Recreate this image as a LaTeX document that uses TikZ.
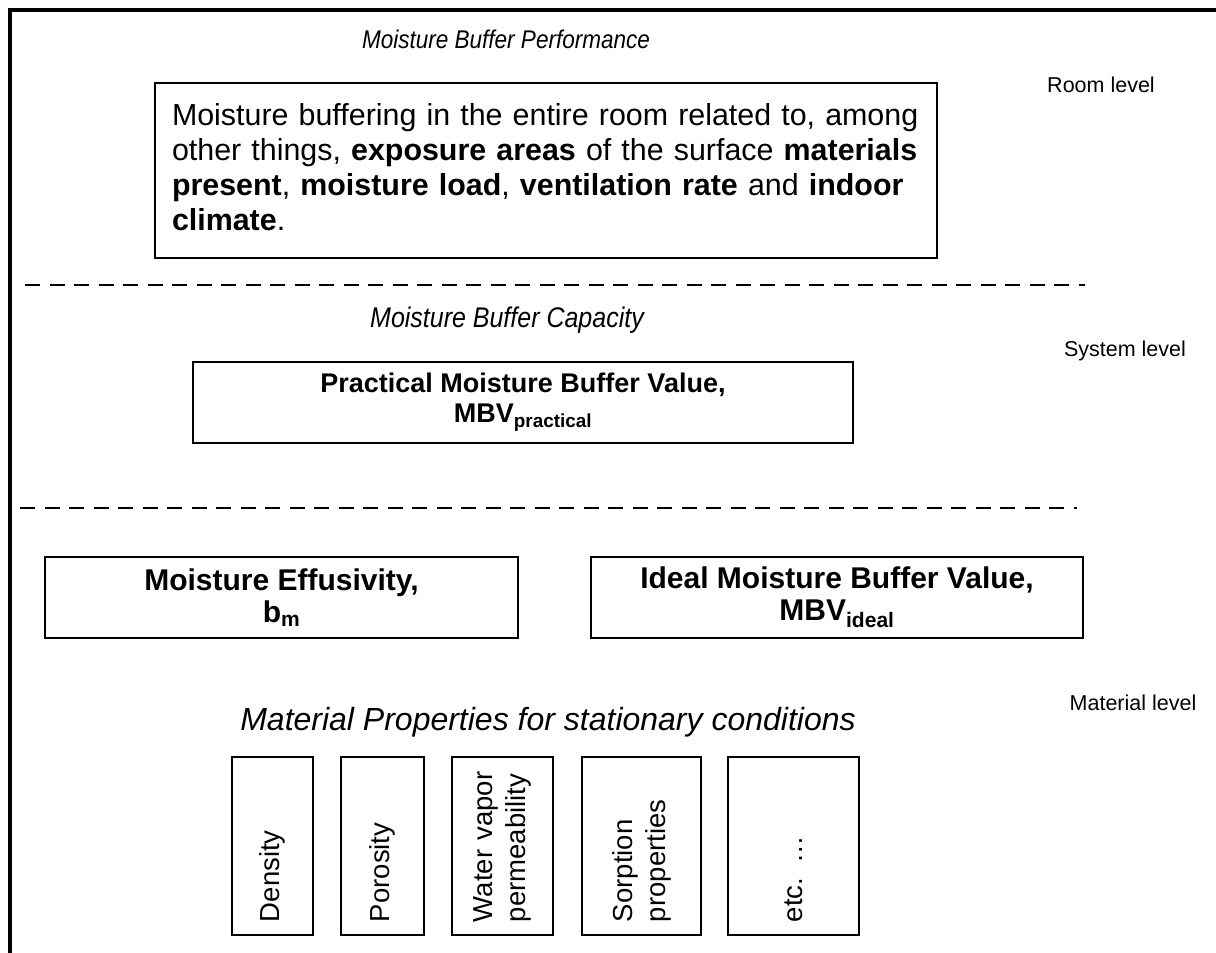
\documentclass[tikz,border=0pt]{standalone}
\usepackage{fontspec}
\setmainfont{Liberation Sans}
\usepackage{graphicx}
\usepackage{tikz}
\usetikzlibrary{shapes, positioning}
\tikzstyle{block}=[draw, rectangle, line width=2.2pt, inner sep=0pt]
\tikzstyle{heading}=[font=\itshape\fontsize{24}{28}\selectfont, inner sep=0pt, anchor=base]
\tikzstyle{tag}=[font=\fontsize{21.5}{25}\selectfont, inner sep=0pt, anchor=base]
\tikzstyle{valuebox}=[block, minimum height=81pt, align=center, font=\bfseries\fontsize{30}{32}\selectfont]
\tikzstyle{propbox}=[block, rotate=90, minimum width=178pt, text width=152pt, inner xsep=13pt, align=left, font=\fontsize{27.5}{33}\selectfont]
\tikzstyle{divider}=[draw, line width=2pt, dash pattern=on 15pt off 9.5pt]
\newcommand{\squeeze}[1]{\scalebox{0.88}[1]{#1}}
\begin{document}
\begin{tikzpicture}[x=1pt, y=-1pt]
		\useasboundingbox (0,0) rectangle (1216,953);
		\draw[line width=4pt] (9.5,953) -- (9.5,10) -- (1216,10);
		% room level
		\node[heading, font=\itshape\fontsize{25.6}{29}\selectfont] (perf) at (506,48) {\squeeze{Moisture Buffer Performance}};
		\node[tag] (roomlvl) at (1101,92) {Room level};
		\node[block, minimum width=782pt, minimum height=175pt, text width=748pt, align=left, font=\fontsize{30.4}{35}\selectfont] (room) at (546,170.5)
			{Moisture buffering in the entire room related to, among\\
			other things, \textbf{exposure areas} of the surface \textbf{materials}\\
			\textbf{present}, \textbf{moisture load}, \textbf{ventilation rate} and \textbf{indoor}\\
			\textbf{climate}.\vphantom{g}\\[6pt]};
		\draw[divider] (25,285) -- (1085,285);
	%--------------------
		\node[heading, font=\itshape\fontsize{28.4}{32}\selectfont] (cap) at (507,327) {\squeeze{Moisture Buffer Capacity}};
		\node[tag] (syslvl) at (1125,356) {System level};
		\node[valuebox, minimum width=660pt, font=\bfseries\fontsize{27}{30}\selectfont] (practical) at (523,402.5) {Practical Moisture Buffer Value,\\MBV\textsubscript{practical}};
		\draw[divider] (20,508) -- (1077,508);
	%--------------------
		\node[valuebox, minimum width=473pt] (effus) at (281.5,597.5) {Moisture Effusivity,\\b\textsubscript{m}};
		\node[valuebox, minimum width=492pt] (ideal) at (837,597.5) {Ideal Moisture Buffer Value,\\MBV\textsubscript{ideal}};
		\node[tag] (matlvl) at (1133,710) {Material level};
		\node[heading, font=\itshape\fontsize{32}{36}\selectfont] (props) at (548,730) {Material Properties for stationary conditions};
		\node[propbox, minimum height=81pt] (density) at (272.5,846) {Density};
		\node[propbox, minimum height=83pt] (porosity) at (382.5,846) {Porosity};
		\node[propbox, minimum height=101pt] (vapour) at (502.5,846) {Water vapor\\permeability};
		\node[propbox, minimum height=119pt] (sorption) at (641.5,846) {Sorption\\properties};
		\node[propbox, minimum height=131pt] (etc) at (793.5,846) {etc. \dots};
	\end{tikzpicture}
\end{document}
